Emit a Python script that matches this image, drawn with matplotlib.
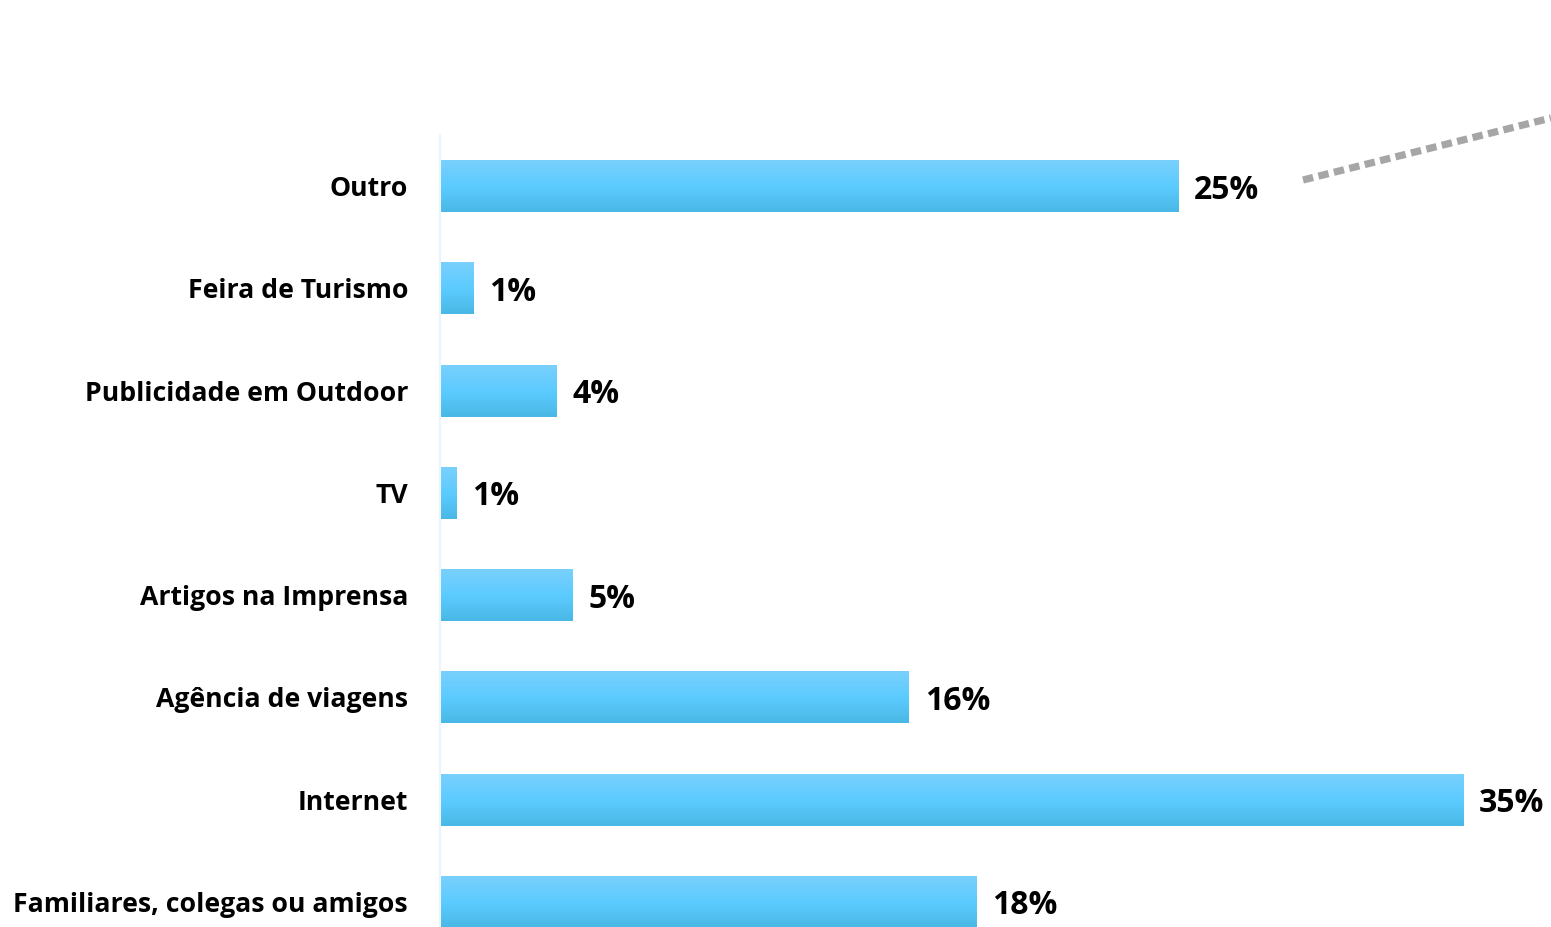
import matplotlib
matplotlib.use("Agg")
import matplotlib.pyplot as plt
import numpy as np
from matplotlib.colors import LinearSegmentedColormap
from matplotlib.lines import Line2D

categories = ["Familiares, colegas ou amigos", "Internet", "Agência de viagens",
              "Artigos na Imprensa", "TV", "Publicidade em Outdoor",
              "Feira de Turismo", "Outro"]
values = [18.34, 35.0, 16.04, 4.55, 0.55, 4.0, 1.13, 25.25]
labels = ["18%", "35%", "16%", "5%", "1%", "4%", "1%", "25%"]

plt.rcParams['font.family'] = ['Open Sans', 'DejaVu Sans']

W, H = 1551, 927
fig = plt.figure(figsize=(W / 100, H / 100), dpi=100)
ax_left, ax_right = 440, 440 + 38 * 29.23
ax_top, ax_bot = 135, 953
ax = fig.add_axes([ax_left / W, 1 - ax_bot / H, (ax_right - ax_left) / W, (ax_bot - ax_top) / H])
ax.set_xlim(0, 38)
ax.set_ylim(-0.5, 7.5)

cmap = LinearSegmentedColormap.from_list("g", ["#4ab8e6", "#5ccbff", "#79d0fc"])
grad = np.linspace(0, 1, 100).reshape(-1, 1)
bh = 0.508
ypos = np.arange(len(categories))
bars = ax.barh(ypos, values, height=bh, color="#5ccbff", edgecolor="none")
for b in bars:
    x0, y0 = b.get_x(), b.get_y()
    im = ax.imshow(grad, extent=[x0, x0 + b.get_width(), y0, y0 + b.get_height()],
                   origin="lower", cmap=cmap, aspect="auto", zorder=2)
    im.set_clip_path(b)

for y, v, lab in zip(ypos, values, labels):
    ax.annotate(lab, (v, y), xytext=(16, -4), textcoords="offset pixels",
                ha="left", va="center", fontsize=23, fontweight="bold", color="black")

ax.set_yticks(ypos)
ax.set_yticklabels(categories, fontsize=19.2, fontweight="bold")
ax.tick_params(axis="y", length=0, pad=23)
ax.set_xticks([])
for s in ["top", "right", "bottom"]:
    ax.spines[s].set_visible(False)
ax.spines["left"].set_color("#eaf6fd")
ax.spines["left"].set_linewidth(1.5)

line = Line2D([1303 / W, 1551 / W], [1 - 180 / H, 1 - 118 / H], transform=fig.transFigure,
              color="#a6a6a6", linewidth=5.2, linestyle=(0, (1.45, 0.75)),
              dash_capstyle="butt")
fig.add_artist(line)

fig.savefig("out.png", dpi=100)
